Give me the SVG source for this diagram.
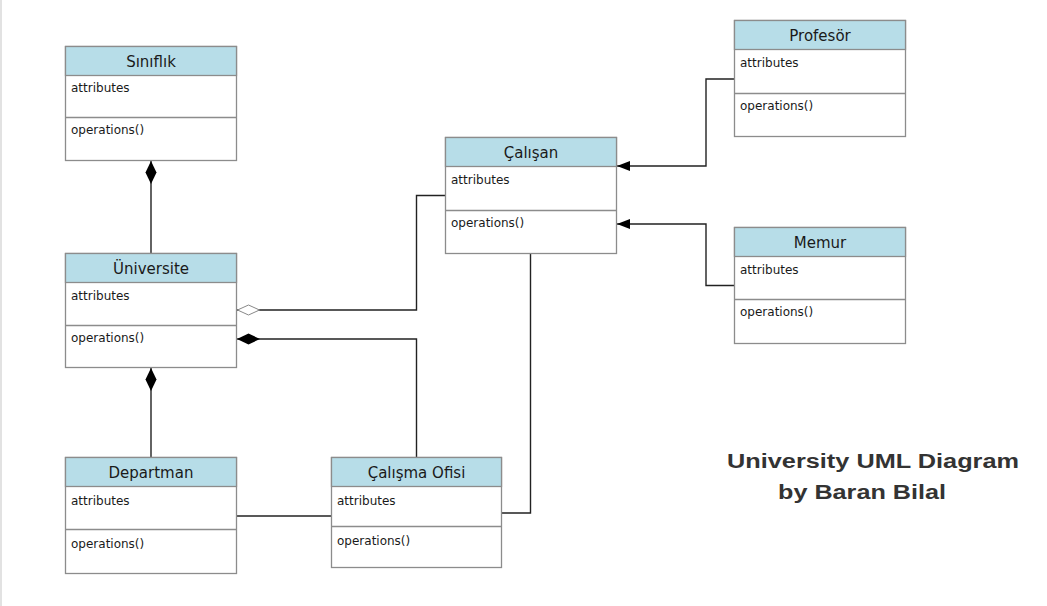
<svg xmlns="http://www.w3.org/2000/svg" width="1047" height="606" viewBox="0 0 1047 606">
<style>
.box{fill:#ffffff;stroke:#8c8c8c;stroke-width:1.3}
.hdr{fill:#b7dde8;stroke:#8c8c8c;stroke-width:1.3}
.div{stroke:#8c8c8c;stroke-width:1.3}
.title{font-family:"DejaVu Sans",Verdana,sans-serif;font-size:15px;fill:#1a1a1a;text-anchor:middle}
.item{font-family:"DejaVu Sans",Verdana,sans-serif;font-size:12px;fill:#1a1a1a}
.conn{fill:none;stroke:#222;stroke-width:1.4}
.cap{font-family:"Liberation Sans",Arial,sans-serif;font-weight:bold;font-size:20px;fill:#333;text-anchor:middle}
</style>
<defs>
<marker id="fdia" markerWidth="24" markerHeight="12" refX="0" refY="6" orient="auto" markerUnits="userSpaceOnUse">
<path d="M0,6 L11.5,0.5 L23,6 L11.5,11.5 Z" fill="#000"/>
</marker>
<marker id="hdia" markerWidth="24" markerHeight="12" refX="0" refY="6" orient="auto" markerUnits="userSpaceOnUse">
<path d="M0.5,6 L11.5,1 L22.5,6 L11.5,11 Z" fill="#fff" stroke="#888" stroke-width="1"/>
</marker>
<marker id="arr" markerWidth="14" markerHeight="12" refX="13" refY="6" orient="auto" markerUnits="userSpaceOnUse">
<path d="M0,1 L13,6 L0,11 Z" fill="#000"/>
</marker>
</defs>
<rect x="0" y="0" width="1047" height="606" fill="#ffffff"/>
<rect x="0" y="0" width="2" height="606" fill="#e2e2e2"/>

<g id="connectors">
<path class="conn" d="M151,161 L151,253" marker-start="url(#fdia)"/>
<path class="conn" d="M151,368 L151,457" marker-start="url(#fdia)"/>
<path class="conn" d="M237,310 L416.5,310 L416.5,195.5 L445,195.5" marker-start="url(#hdia)"/>
<path class="conn" d="M237,339 L416.5,339 L416.5,457" marker-start="url(#fdia)"/>
<path class="conn" d="M236,516 L331,516"/>
<path class="conn" d="M530.5,253 L530.5,513 L502,513"/>
<path class="conn" d="M734,79 L706,79 L706,166 L617,166" marker-end="url(#arr)"/>
<path class="conn" d="M734,285.5 L706,285.5 L706,224 L617,224" marker-end="url(#arr)"/>
</g>

<g id="sinifilik">
<rect class="box" x="65.5" y="46.5" width="171" height="114"/>
<rect class="hdr" x="65.5" y="46.5" width="171" height="29"/>
<line class="div" x1="65.5" y1="117.5" x2="236.5" y2="117.5"/>
<text class="title" x="151" y="67">Sınıflık</text>
<text class="item" x="71" y="92">attributes</text>
<text class="item" x="71" y="134">operations()</text>
</g>

<g id="universite">
<rect class="box" x="65.5" y="253.5" width="171" height="114"/>
<rect class="hdr" x="65.5" y="253.5" width="171" height="29"/>
<line class="div" x1="65.5" y1="325.5" x2="236.5" y2="325.5"/>
<text class="title" x="151" y="274">Üniversite</text>
<text class="item" x="71" y="300">attributes</text>
<text class="item" x="71" y="342">operations()</text>
</g>

<g id="departman">
<rect class="box" x="65.5" y="457.5" width="171" height="116"/>
<rect class="hdr" x="65.5" y="457.5" width="171" height="29"/>
<line class="div" x1="65.5" y1="529.5" x2="236.5" y2="529.5"/>
<text class="title" x="151" y="478">Departman</text>
<text class="item" x="71" y="505">attributes</text>
<text class="item" x="71" y="548">operations()</text>
</g>

<g id="calisma-ofisi">
<rect class="box" x="331.5" y="457.5" width="170" height="110"/>
<rect class="hdr" x="331.5" y="457.5" width="170" height="29"/>
<line class="div" x1="331.5" y1="526.5" x2="501.5" y2="526.5"/>
<text class="title" x="416.5" y="478">Çalışma Ofisi</text>
<text class="item" x="337" y="505">attributes</text>
<text class="item" x="337" y="545">operations()</text>
</g>

<g id="calisan">
<rect class="box" x="445.5" y="137.5" width="171" height="116"/>
<rect class="hdr" x="445.5" y="137.5" width="171" height="29"/>
<line class="div" x1="445.5" y1="210.5" x2="616.5" y2="210.5"/>
<text class="title" x="531" y="158">Çalışan</text>
<text class="item" x="451" y="184">attributes</text>
<text class="item" x="451" y="227">operations()</text>
</g>

<g id="profesor">
<rect class="box" x="734.5" y="20.5" width="171" height="116"/>
<rect class="hdr" x="734.5" y="20.5" width="171" height="29"/>
<line class="div" x1="734.5" y1="93.5" x2="905.5" y2="93.5"/>
<text class="title" x="820" y="41">Profesör</text>
<text class="item" x="740" y="67">attributes</text>
<text class="item" x="740" y="110">operations()</text>
</g>

<g id="memur">
<rect class="box" x="734.5" y="227.5" width="171" height="116"/>
<rect class="hdr" x="734.5" y="227.5" width="171" height="29"/>
<line class="div" x1="734.5" y1="299.5" x2="905.5" y2="299.5"/>
<text class="title" x="820" y="248">Memur</text>
<text class="item" x="740" y="274">attributes</text>
<text class="item" x="740" y="316">operations()</text>
</g>

<g id="caption">
<text class="cap" x="873" y="468" textLength="292" lengthAdjust="spacingAndGlyphs">University UML Diagram</text>
<text class="cap" x="862" y="499" textLength="168" lengthAdjust="spacingAndGlyphs">by Baran Bilal</text>
</g>
</svg>
